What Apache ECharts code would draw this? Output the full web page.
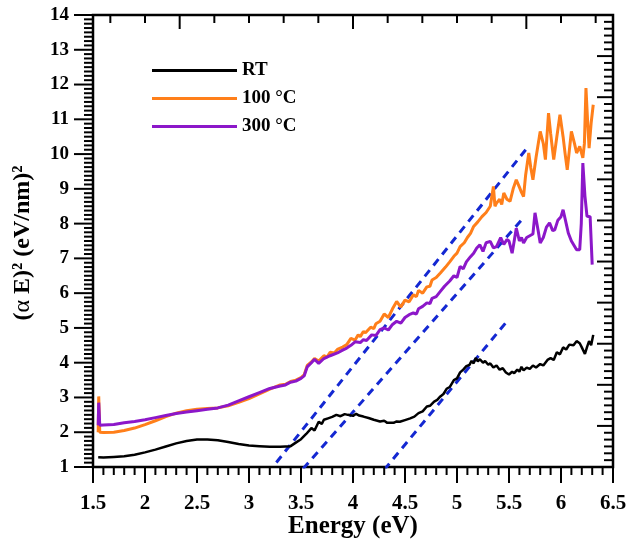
<!DOCTYPE html>
<html>
<head>
<meta charset="utf-8">
<script src="https://cdn.jsdelivr.net/npm/echarts@6/dist/echarts.min.js"></script>
<style>
  html, body { margin: 0; padding: 0; background: #fff; }
  #chart { width: 630px; height: 544px; }
</style>
</head>
<body>
<div id="chart"></div>
<script>
  // (alpha E)^2 vs photon energy
  const rtData = [
    [1.55,1.28],[1.6,1.27],[1.7,1.29],[1.8,1.31],[1.9,1.35],[2.0,1.42],[2.1,1.5],[2.2,1.59],
    [2.3,1.68],[2.4,1.75],[2.5,1.79],[2.6,1.79],[2.7,1.77],[2.8,1.72],[2.9,1.66],[3.0,1.62],
    [3.1,1.6],[3.2,1.58],[3.3,1.58],[3.4,1.6],[3.45,1.7],[3.5,1.8],[3.55,1.95],[3.6,2.12],
    [3.63,2.05],[3.67,2.3],[3.7,2.24],[3.72,2.36],[3.76,2.4],[3.8,2.44],[3.84,2.5],[3.88,2.46],
    [3.92,2.52],[3.95,2.5],[4.0,2.47],[4.03,2.53],[4.06,2.48],[4.1,2.45],[4.15,2.41],[4.2,2.36],
    [4.26,2.31],[4.3,2.33],[4.33,2.27],[4.39,2.27],[4.42,2.31],[4.45,2.3],[4.5,2.35],[4.55,2.4],
    [4.59,2.45],[4.63,2.55],[4.67,2.6],[4.71,2.74],[4.74,2.76],[4.78,2.88],[4.81,2.93],[4.84,3.03],
    [4.87,3.1],[4.9,3.25],[4.93,3.3],[4.97,3.5],[5.0,3.55],[5.03,3.72],[5.06,3.8],[5.09,3.9],
    [5.12,3.94],[5.14,4.05],[5.16,3.98],[5.18,4.14],[5.2,4.04],[5.22,4.1],[5.25,4.0],[5.27,4.05],
    [5.3,3.94],[5.32,3.98],[5.35,3.86],[5.38,3.92],[5.41,3.8],[5.44,3.84],[5.47,3.72],[5.5,3.66],
    [5.53,3.74],[5.55,3.7],[5.58,3.8],[5.6,3.74],[5.62,3.88],[5.64,3.78],[5.67,3.86],[5.7,3.82],
    [5.73,3.92],[5.76,3.86],[5.8,3.96],[5.83,3.92],[5.87,4.08],[5.9,4.13],[5.93,4.08],[5.96,4.3],
    [5.99,4.24],[6.02,4.44],[6.05,4.38],[6.08,4.52],[6.12,4.5],[6.15,4.62],[6.18,4.56],[6.2,4.44],
    [6.23,4.25],[6.25,4.45],[6.27,4.62],[6.29,4.5],[6.31,4.8]
  ];
  const t100Data = [
    [1.55,2.0],[1.555,3.03],[1.565,2.0],[1.6,1.99],[1.7,2.0],[1.8,2.05],[1.9,2.12],[2.0,2.22],
    [2.1,2.33],[2.2,2.45],[2.3,2.55],[2.4,2.62],[2.5,2.66],[2.6,2.68],[2.7,2.7],[2.8,2.76],
    [2.9,2.86],[3.0,2.97],[3.1,3.1],[3.2,3.24],[3.3,3.36],[3.35,3.38],[3.4,3.46],[3.45,3.5],[3.5,3.57],[3.53,3.65],
    [3.56,3.92],[3.6,4.02],[3.63,4.12],[3.67,4.05],[3.72,4.2],[3.75,4.16],[3.78,4.3],[3.82,4.28],[3.85,4.38],[3.9,4.45],
    [3.94,4.52],[3.98,4.7],[4.02,4.65],[4.05,4.8],[4.07,4.75],[4.1,4.9],[4.12,4.86],[4.17,5.02],[4.2,4.98],[4.22,5.12],[4.26,5.19],
    [4.3,5.4],[4.34,5.3],[4.38,5.55],[4.42,5.76],[4.46,5.6],[4.5,5.8],[4.54,5.75],[4.58,5.95],
    [4.61,5.9],[4.63,6.08],[4.67,6.0],[4.71,6.18],[4.74,6.2],[4.76,6.38],[4.8,6.45],[4.84,6.58],[4.89,6.75],[4.93,6.9],
    [4.97,7.06],[5.0,7.15],[5.03,7.34],[5.07,7.45],[5.1,7.6],[5.13,7.72],[5.16,7.92],[5.2,8.05],
    [5.24,8.2],[5.28,8.32],[5.32,8.5],[5.335,8.45],[5.35,9.07],[5.365,8.5],[5.38,8.59],[5.41,8.7],
    [5.43,8.55],[5.45,8.88],[5.48,8.7],[5.51,8.64],[5.54,9.0],[5.57,9.26],[5.6,9.05],[5.62,8.9],
    [5.64,8.78],[5.66,9.4],[5.69,10.03],[5.71,9.6],[5.73,9.26],[5.76,9.9],[5.8,10.65],[5.83,10.3],
    [5.85,9.84],[5.88,11.18],[5.9,10.6],[5.93,9.84],[5.96,10.5],[5.99,11.13],[6.02,10.5],[6.04,10.0],
    [6.06,9.55],[6.08,10.1],[6.1,10.65],[6.13,10.3],[6.15,10.03],[6.18,10.22],[6.21,9.89],[6.225,10.3],
    [6.24,11.9],[6.255,11.0],[6.27,10.17],[6.29,10.9],[6.31,11.42]
  ];
  const t300Data = [
    [1.55,2.2],[1.555,2.85],[1.565,2.2],[1.6,2.21],[1.7,2.22],[1.8,2.27],[1.9,2.31],[2.0,2.36],
    [2.1,2.42],[2.2,2.48],[2.3,2.54],[2.4,2.58],[2.5,2.62],[2.6,2.66],[2.7,2.7],[2.8,2.78],
    [2.9,2.9],[3.0,3.02],[3.1,3.14],[3.2,3.26],[3.3,3.33],[3.35,3.36],[3.4,3.44],[3.45,3.47],[3.5,3.55],[3.53,3.62],
    [3.56,3.88],[3.6,4.0],[3.63,4.1],[3.67,3.98],[3.72,4.12],[3.78,4.2],[3.85,4.28],[3.9,4.36],
    [3.94,4.42],[3.98,4.5],[4.02,4.6],[4.07,4.58],[4.1,4.66],[4.13,4.64],[4.18,4.8],[4.22,4.78],[4.26,4.95],
    [4.3,5.0],[4.34,4.94],[4.38,5.1],[4.42,5.19],[4.46,5.14],[4.5,5.3],[4.54,5.38],[4.58,5.43],
    [4.61,5.4],[4.63,5.55],[4.67,5.62],[4.71,5.72],[4.74,5.7],[4.76,5.85],[4.8,5.9],[4.84,6.05],[4.88,6.2],[4.93,6.35],
    [4.97,6.5],[5.0,6.45],[5.03,6.77],[5.06,6.7],[5.09,6.9],[5.13,7.05],[5.16,7.15],[5.19,7.3],
    [5.22,7.39],[5.25,7.2],[5.28,7.45],[5.32,7.49],[5.35,7.3],[5.38,7.34],[5.42,7.6],[5.45,7.4],
    [5.48,7.54],[5.5,7.5],[5.53,7.15],[5.55,7.5],[5.57,7.87],[5.6,7.5],[5.62,7.6],[5.64,7.44],
    [5.67,7.6],[5.7,7.65],[5.73,7.7],[5.75,8.31],[5.78,7.8],[5.8,7.44],[5.83,7.6],[5.86,7.9],
    [5.89,8.02],[5.92,7.8],[5.94,7.82],[5.97,8.1],[6.0,8.2],[6.02,8.4],[6.05,8.0],[6.07,7.73],
    [6.1,7.5],[6.15,7.25],[6.18,7.25],[6.195,8.0],[6.21,9.74],[6.23,8.8],[6.25,8.21],[6.28,8.2],
    [6.3,6.82]
  ];
  // Tauc fit lines (end points)
  const fit100 = [[3.263,1.13],[5.686,10.22]];
  const fit300 = [[3.52,0.95],[5.62,8.1]];
  const fitRT = [[4.30,0.92],[5.50,5.26]];

  const seriesNames = ['RT', '100 °C', '300 °C'];
  const seriesColors = ['#000000', '#ff7f1a', '#8c17c9'];

  // tick positions (axis units)
  const xMajorTicks = [1.5, 2, 2.5, 3, 3.5, 4, 4.5, 5, 5.5, 6, 6.5];
  const yMajorTicks = [1, 2, 3, 4, 5, 6, 7, 8, 9, 10, 11, 12, 13, 14];
  const rightMajorTicks = [0, 1, 2, 3, 4, 5, 6, 7, 8, 9, 10, 11];
  const topLongTicks = [7/3, 4, 17/3];
  const topShortTicks = [5/3, 2, 8/3, 3, 10/3, 11/3, 13/3, 14/3, 5, 16/3, 6, 19/3];

  const font = 'Liberation Serif, Times New Roman, serif';

  // [value, tick length] list, minor ticks split between the majors
  function withMinor(majors, split, majorLen, minorLen) {
    const out = [];
    majors.forEach((m, i) => {
      out.push([m, majorLen]);
      if (i < majors.length - 1) {
        const step = (majors[i + 1] - m) / split;
        for (let k = 1; k < split; k++) out.push([m + step * k, minorLen]);
      }
    });
    return out;
  }

  // ticks drawn as a custom series through the axes' own scales
  const tickSeries = (data, yAxisIndex, toLine) => ({
    type: 'custom', data: data, xAxisIndex: 0, yAxisIndex: yAxisIndex,
    silent: true, clip: false, z: 10,
    renderItem: (params, api) => {
      const s = toLine(api);
      return { type: 'line', shape: { x1: s[0], y1: s[1], x2: s[2], y2: s[3] },
        style: { stroke: '#000', lineWidth: 2 } };
    }
  });

  const chart = echarts.init(document.getElementById('chart'));

  const fitSeries = (d) => ({
    type: 'line', data: d, symbol: 'none', silent: true,
    lineStyle: { color: '#1428d2', width: 3, type: [8, 6] }, z: 1
  });

  const hiddenAxisParts = {
    axisLine: { show: false }, axisTick: { show: false }, minorTick: { show: false },
    splitLine: { show: false }
  };

  chart.setOption({
    animation: false,
    grid: { left: 93, right: 17, top: 15, bottom: 77,
      show: true, borderColor: '#000', borderWidth: 2.5, backgroundColor: 'transparent' },
    legend: {
      data: seriesNames.map(n => ({ name: n, icon: 'rect' })),
      orient: 'vertical',
      left: 147, top: 56,
      itemWidth: 85, itemHeight: 3, itemGap: 9,
      textStyle: { fontFamily: font, fontWeight: 'bold', fontSize: 19, color: '#000' }
    },
    // axis titles
    graphic: [
      { type: 'text', x: 353, y: 527, silent: true,
        style: { text: 'Energy (eV)', fontFamily: font, fontWeight: 'bold', fontSize: 25,
          fill: '#000', align: 'center', verticalAlign: 'middle' } },
      { type: 'text', x: 23, y: 243, rotation: Math.PI / 2, silent: true,
        style: { text: '({a|α} E)² (eV/nm)²', fontFamily: font, fontWeight: 'bold', fontSize: 24,
          fill: '#000', align: 'center', verticalAlign: 'middle',
          rich: { a: { fontFamily: font, fontWeight: 'normal', fontSize: 24, fill: '#000' } } } }
    ],
    xAxis: {
      type: 'value', min: 1.5, max: 6.5, interval: 0.5,
      ...hiddenAxisParts,
      axisLabel: { margin: 26, fontFamily: font, fontWeight: 'bold', fontSize: 21, color: '#000' }
    },
    yAxis: [
      {
        type: 'value', min: 1, max: 14, interval: 1,
        ...hiddenAxisParts,
        axisLabel: { margin: 24, fontFamily: font, fontWeight: 'bold', fontSize: 19, color: '#000' }
      },
      {
        type: 'value', min: 0, max: 11, interval: 1, position: 'right',
        ...hiddenAxisParts,
        axisLabel: { show: false }
      }
    ],
    series: [
      fitSeries(fit100),
      fitSeries(fit300),
      fitSeries(fitRT),
      { name: seriesNames[0], type: 'line', data: rtData, symbol: 'none', z: 3,
        lineStyle: { color: seriesColors[0], width: 2.5 }, itemStyle: { color: seriesColors[0] } },
      { name: seriesNames[1], type: 'line', data: t100Data, symbol: 'none', z: 2,
        lineStyle: { color: seriesColors[1], width: 3 }, itemStyle: { color: seriesColors[1] } },
      { name: seriesNames[2], type: 'line', data: t300Data, symbol: 'none', z: 4,
        lineStyle: { color: seriesColors[2], width: 3 }, itemStyle: { color: seriesColors[2] } },
      // bottom: outward
      tickSeries(withMinor(xMajorTicks, 5, 16, 8), 0, api => {
        const p = api.coord([api.value(0), 1]);
        return [p[0], p[1], p[0], p[1] + api.value(1)];
      }),
      // left: outward
      tickSeries(withMinor(yMajorTicks, 8, 19, 9).map(t => [1.5, t[0], t[1]]), 0, api => {
        const p = api.coord([1.5, api.value(1)]);
        return [p[0], p[1], p[0] - api.value(2), p[1]];
      }),
      // top: inward
      tickSeries(topLongTicks.map(v => [v, 14]).concat(topShortTicks.map(v => [v, 8])), 0, api => {
        const p = api.coord([api.value(0), 14]);
        return [p[0], p[1], p[0], p[1] + api.value(1)];
      }),
      // right: inward, on the right axis scale
      tickSeries(withMinor(rightMajorTicks, 6, 16, 9).map(t => [6.5, t[0], t[1]]), 1, api => {
        const p = api.coord([6.5, api.value(1)]);
        return [p[0], p[1], p[0] - api.value(2), p[1]];
      })
    ]
  });
</script>
</body>
</html>
